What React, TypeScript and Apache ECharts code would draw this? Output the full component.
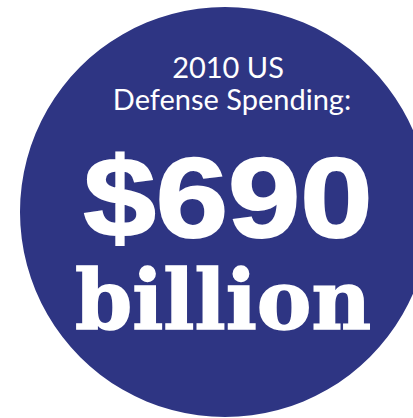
import React, { useEffect, useRef } from "react";
import * as echarts from "echarts";

const circleValue = [1];
const titleLines = ["2010 US", "Defense Spending:"];
const amountLabel = ["$690"];
const unitLabel = ["billion"];
const BLUE = "#2e3583";

export default function App() {
  const ref = useRef<HTMLDivElement>(null);
  useEffect(() => {
    if (!ref.current) return;
    const chart = echarts.init(ref.current, null, { renderer: "svg" });
    const txt = (
      text: string,
      x: number,
      y: number,
      font: string,
      lineHeight: number,
      extra: any = {},
      stroke = 0
    ) => ({
      type: "text",
      x,
      y,
      z: 100,
      ...extra,
      style: {
        text,
        fill: "#ffffff",
        font,
        lineHeight,
        align: "center",
        verticalAlign: "middle",
        stroke: stroke ? "#ffffff" : undefined,
        lineWidth: stroke,
      },
    });
    chart.setOption({
      animation: false,
      backgroundColor: "#ffffff",
      series: [
        {
          type: "pie",
          silent: true,
          z: 1,
          center: [225, 212],
          radius: [0, 205],
          label: { show: false },
          labelLine: { show: false },
          itemStyle: { color: BLUE },
          data: circleValue.map((v) => ({ value: v, name: "circle" })),
        },
      ],
      graphic: {
        elements: [
          txt(titleLines[0], 228, 66, "400 29px Lato", 30),
          txt(titleLines[1], 232, 98, "400 29px Lato", 30),
          txt(amountLabel[0], 228, 198.5, "bold 113px 'Liberation Sans'", 100, { scaleX: 1.15 }, 2),
          txt(unitLabel[0], 223, 300, "bold 82px 'DejaVu Serif'", 70, {}, 1.5),
        ],
      },
    });
    return () => chart.dispose();
  }, []);
  return (
    <div
      ref={ref}
      style={{ position: "fixed", left: 0, top: 0, width: 413, height: 418 }}
    />
  );
}
